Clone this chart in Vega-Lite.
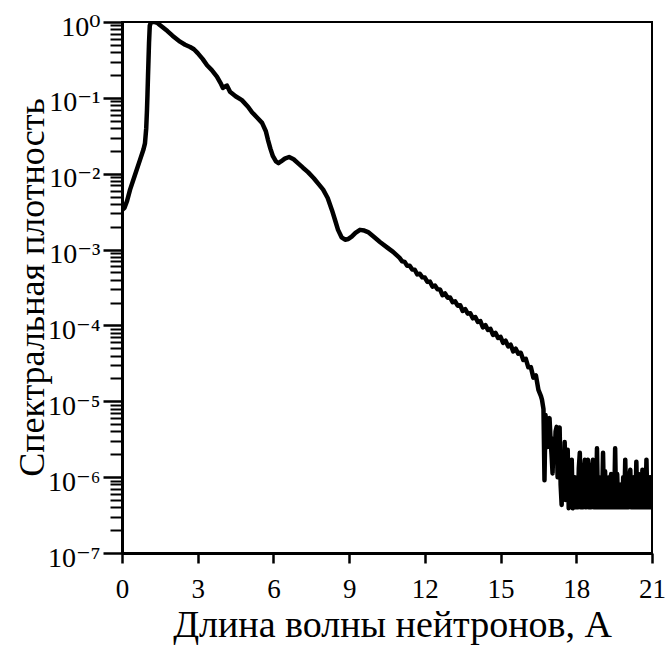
{
  "$schema": "https://vega.github.io/schema/vega-lite/v6.json",
  "width": 530,
  "height": 531,
  "autosize": "none",
  "padding": {"left": 122, "top": 22, "right": 14, "bottom": 92},
  "background": "white",
  "config": {
    "view": {"stroke": "black", "strokeWidth": 2},
    "font": "'Liberation Serif', 'Times New Roman', 'DejaVu Serif', serif"
  },
  "data": {"values": [
    {"lambda": 0.0, "density": 0.00331},
    {"lambda": 0.1, "density": 0.00355},
    {"lambda": 0.2, "density": 0.00437},
    {"lambda": 0.32, "density": 0.00617},
    {"lambda": 0.5, "density": 0.00933},
    {"lambda": 0.71, "density": 0.0151},
    {"lambda": 0.85, "density": 0.0209},
    {"lambda": 0.91, "density": 0.0251},
    {"lambda": 0.96, "density": 0.0398},
    {"lambda": 0.99, "density": 0.0692},
    {"lambda": 1.01, "density": 0.112},
    {"lambda": 1.03, "density": 0.191},
    {"lambda": 1.05, "density": 0.316},
    {"lambda": 1.07, "density": 0.525},
    {"lambda": 1.1, "density": 0.891},
    {"lambda": 1.15, "density": 1.0},
    {"lambda": 1.3, "density": 1.0},
    {"lambda": 1.4, "density": 0.977},
    {"lambda": 1.5, "density": 0.912},
    {"lambda": 1.8, "density": 0.759},
    {"lambda": 2.0, "density": 0.661},
    {"lambda": 2.3, "density": 0.55},
    {"lambda": 2.5, "density": 0.501},
    {"lambda": 2.7, "density": 0.468},
    {"lambda": 2.85, "density": 0.437},
    {"lambda": 3.0, "density": 0.389},
    {"lambda": 3.2, "density": 0.324},
    {"lambda": 3.37, "density": 0.269},
    {"lambda": 3.55, "density": 0.234},
    {"lambda": 3.76, "density": 0.191},
    {"lambda": 3.9, "density": 0.158},
    {"lambda": 4.0, "density": 0.135},
    {"lambda": 4.08, "density": 0.141},
    {"lambda": 4.16, "density": 0.145},
    {"lambda": 4.28, "density": 0.12},
    {"lambda": 4.5, "density": 0.105},
    {"lambda": 4.75, "density": 0.0933},
    {"lambda": 5.0, "density": 0.0759},
    {"lambda": 5.15, "density": 0.0646},
    {"lambda": 5.35, "density": 0.055},
    {"lambda": 5.55, "density": 0.0468},
    {"lambda": 5.7, "density": 0.0363},
    {"lambda": 5.78, "density": 0.0282},
    {"lambda": 5.88, "density": 0.0214},
    {"lambda": 5.98, "density": 0.017},
    {"lambda": 6.1, "density": 0.0145},
    {"lambda": 6.2, "density": 0.0138},
    {"lambda": 6.3, "density": 0.0145},
    {"lambda": 6.45, "density": 0.0158},
    {"lambda": 6.62, "density": 0.0166},
    {"lambda": 6.8, "density": 0.0155},
    {"lambda": 6.97, "density": 0.0138},
    {"lambda": 7.17, "density": 0.012},
    {"lambda": 7.37, "density": 0.0105},
    {"lambda": 7.6, "density": 0.00871},
    {"lambda": 7.8, "density": 0.00724},
    {"lambda": 7.97, "density": 0.00617},
    {"lambda": 8.15, "density": 0.00479},
    {"lambda": 8.32, "density": 0.00331},
    {"lambda": 8.45, "density": 0.0024},
    {"lambda": 8.56, "density": 0.00182},
    {"lambda": 8.7, "density": 0.00145},
    {"lambda": 8.84, "density": 0.00135},
    {"lambda": 8.97, "density": 0.00138},
    {"lambda": 9.1, "density": 0.00148},
    {"lambda": 9.25, "density": 0.00166},
    {"lambda": 9.43, "density": 0.00182},
    {"lambda": 9.6, "density": 0.00178},
    {"lambda": 9.75, "density": 0.0017},
    {"lambda": 10.0, "density": 0.00145},
    {"lambda": 10.22, "density": 0.00126},
    {"lambda": 10.5, "density": 0.00107},
    {"lambda": 10.74, "density": 0.000933},
    {"lambda": 11.0, "density": 0.000776},
    {"lambda": 11.1, "density": 0.000700},
    {"lambda": 11.2, "density": 0.000689},
    {"lambda": 11.3, "density": 0.000610},
    {"lambda": 11.4, "density": 0.000611},
    {"lambda": 11.5, "density": 0.000545},
    {"lambda": 11.6, "density": 0.000542},
    {"lambda": 11.7, "density": 0.000470},
    {"lambda": 11.8, "density": 0.000481},
    {"lambda": 11.9, "density": 0.000430},
    {"lambda": 12.0, "density": 0.000427},
    {"lambda": 12.1, "density": 0.000375},
    {"lambda": 12.2, "density": 0.000378},
    {"lambda": 12.3, "density": 0.000325},
    {"lambda": 12.4, "density": 0.000336},
    {"lambda": 12.5, "density": 0.000300},
    {"lambda": 12.6, "density": 0.000298},
    {"lambda": 12.7, "density": 0.000250},
    {"lambda": 12.8, "density": 0.000264},
    {"lambda": 12.9, "density": 0.000232},
    {"lambda": 13.0, "density": 0.000234},
    {"lambda": 13.1, "density": 0.000202},
    {"lambda": 13.2, "density": 0.000208},
    {"lambda": 13.3, "density": 0.000182},
    {"lambda": 13.4, "density": 0.000185},
    {"lambda": 13.5, "density": 0.000155},
    {"lambda": 13.6, "density": 0.000164},
    {"lambda": 13.7, "density": 0.000143},
    {"lambda": 13.8, "density": 0.000145},
    {"lambda": 13.9, "density": 0.000124},
    {"lambda": 14.0, "density": 0.000129},
    {"lambda": 14.1, "density": 0.000111},
    {"lambda": 14.2, "density": 0.000114},
    {"lambda": 14.3, "density": 0.0000940},
    {"lambda": 14.4, "density": 0.000101},
    {"lambda": 14.5, "density": 0.0000870},
    {"lambda": 14.6, "density": 0.0000899},
    {"lambda": 14.7, "density": 0.0000750},
    {"lambda": 14.8, "density": 0.0000798},
    {"lambda": 14.9, "density": 0.0000685},
    {"lambda": 15.0, "density": 0.0000708},
    {"lambda": 15.1, "density": 0.0000590},
    {"lambda": 15.2, "density": 0.0000628},
    {"lambda": 15.3, "density": 0.0000530},
    {"lambda": 15.4, "density": 0.0000557},
    {"lambda": 15.5, "density": 0.0000455},
    {"lambda": 15.6, "density": 0.0000494},
    {"lambda": 15.7, "density": 0.0000425},
    {"lambda": 15.8, "density": 0.0000437},
    {"lambda": 15.9, "density": 0.0000350},
    {"lambda": 16.0, "density": 0.0000363},
    {"lambda": 16.1, "density": 0.0000280},
    {"lambda": 16.2, "density": 0.0000282},
    {"lambda": 16.3, "density": 0.0000205},
    {"lambda": 16.4, "density": 0.0000219},
    {"lambda": 16.5, "density": 0.0000141},
    {"lambda": 16.6, "density": 0.0000117},
    {"lambda": 16.64, "density": 0.0000105},
    {"lambda": 16.7, "density": 0.0000079},
    {"lambda": 16.74, "density": 0.00000091},
    {"lambda": 16.78, "density": 0.0000066},
    {"lambda": 16.82, "density": 0.000004},
    {"lambda": 16.86, "density": 0.0000025},
    {"lambda": 16.9, "density": 0.000005},
    {"lambda": 16.94, "density": 0.000006},
    {"lambda": 16.98, "density": 0.0000032},
    {"lambda": 17.02, "density": 0.000002},
    {"lambda": 17.06, "density": 0.00000112},
    {"lambda": 17.1, "density": 0.0000032},
    {"lambda": 17.14, "density": 0.00000178},
    {"lambda": 17.18, "density": 0.000004},
    {"lambda": 17.22, "density": 0.0000046},
    {"lambda": 17.26, "density": 0.000001},
    {"lambda": 17.3, "density": 0.0000032},
    {"lambda": 17.34, "density": 0.0000045},
    {"lambda": 17.38, "density": 0.00000079},
    {"lambda": 17.42, "density": 0.00000043},
    {"lambda": 17.46, "density": 0.0000016},
    {"lambda": 17.5, "density": 0.00000063},
    {"lambda": 17.54, "density": 0.0000029},
    {"lambda": 17.58, "density": 0.0000005},
    {"lambda": 17.62, "density": 0.00000126},
    {"lambda": 17.66, "density": 0.0000023},
    {"lambda": 17.7, "density": 0.00000039},
    {"lambda": 17.74, "density": 0.000001},
    {"lambda": 17.78, "density": 0.0000005},
    {"lambda": 17.82, "density": 0.0000017},
    {"lambda": 17.86, "density": 0.00000039},
    {"lambda": 17.9, "density": 0.0000004},
    {"lambda": 17.94, "density": 0.000001},
    {"lambda": 17.98, "density": 0.0000004},
    {"lambda": 18.02, "density": 0.0000008},
    {"lambda": 18.06, "density": 0.0000004},
    {"lambda": 18.1, "density": 0.0000013},
    {"lambda": 18.14, "density": 0.0000021},
    {"lambda": 18.18, "density": 0.0000004},
    {"lambda": 18.22, "density": 0.0000011},
    {"lambda": 18.26, "density": 0.0000004},
    {"lambda": 18.3, "density": 0.0000012},
    {"lambda": 18.34, "density": 0.0000017},
    {"lambda": 18.38, "density": 0.0000004},
    {"lambda": 18.42, "density": 0.0000013},
    {"lambda": 18.46, "density": 0.0000017},
    {"lambda": 18.5, "density": 0.0000004},
    {"lambda": 18.54, "density": 0.0000011},
    {"lambda": 18.58, "density": 0.0000004},
    {"lambda": 18.62, "density": 0.0000013},
    {"lambda": 18.66, "density": 0.0000017},
    {"lambda": 18.7, "density": 0.0000004},
    {"lambda": 18.74, "density": 0.000001},
    {"lambda": 18.78, "density": 0.0000004},
    {"lambda": 18.82, "density": 0.0000024},
    {"lambda": 18.86, "density": 0.0000004},
    {"lambda": 18.9, "density": 0.000001},
    {"lambda": 18.94, "density": 0.0000004},
    {"lambda": 18.98, "density": 0.0000008},
    {"lambda": 19.02, "density": 0.0000004},
    {"lambda": 19.06, "density": 0.0000021},
    {"lambda": 19.1, "density": 0.0000004},
    {"lambda": 19.14, "density": 0.0000012},
    {"lambda": 19.18, "density": 0.0000004},
    {"lambda": 19.22, "density": 0.0000008},
    {"lambda": 19.26, "density": 0.0000004},
    {"lambda": 19.3, "density": 0.000001},
    {"lambda": 19.34, "density": 0.0000004},
    {"lambda": 19.38, "density": 0.0000011},
    {"lambda": 19.42, "density": 0.0000004},
    {"lambda": 19.46, "density": 0.000001},
    {"lambda": 19.5, "density": 0.0000004},
    {"lambda": 19.54, "density": 0.0000024},
    {"lambda": 19.58, "density": 0.0000004},
    {"lambda": 19.62, "density": 0.0000011},
    {"lambda": 19.66, "density": 0.0000004},
    {"lambda": 19.7, "density": 0.0000008},
    {"lambda": 19.74, "density": 0.0000004},
    {"lambda": 19.78, "density": 0.0000008},
    {"lambda": 19.82, "density": 0.0000004},
    {"lambda": 19.86, "density": 0.000001},
    {"lambda": 19.9, "density": 0.0000004},
    {"lambda": 19.94, "density": 0.0000017},
    {"lambda": 19.98, "density": 0.0000004},
    {"lambda": 20.02, "density": 0.0000011},
    {"lambda": 20.06, "density": 0.0000004},
    {"lambda": 20.1, "density": 0.000001},
    {"lambda": 20.14, "density": 0.00000125},
    {"lambda": 20.18, "density": 0.0000004},
    {"lambda": 20.22, "density": 0.000001},
    {"lambda": 20.26, "density": 0.0000004},
    {"lambda": 20.3, "density": 0.000001},
    {"lambda": 20.34, "density": 0.0000004},
    {"lambda": 20.38, "density": 0.0000016},
    {"lambda": 20.42, "density": 0.0000004},
    {"lambda": 20.46, "density": 0.0000011},
    {"lambda": 20.5, "density": 0.0000004},
    {"lambda": 20.54, "density": 0.000001},
    {"lambda": 20.58, "density": 0.0000004},
    {"lambda": 20.62, "density": 0.00000125},
    {"lambda": 20.66, "density": 0.0000004},
    {"lambda": 20.7, "density": 0.0000009},
    {"lambda": 20.74, "density": 0.0000004},
    {"lambda": 20.78, "density": 0.0000017},
    {"lambda": 20.82, "density": 0.0000004},
    {"lambda": 20.86, "density": 0.000001},
    {"lambda": 20.9, "density": 0.0000004},
    {"lambda": 20.94, "density": 0.000001},
    {"lambda": 20.98, "density": 0.0000004},
    {"lambda": 21.0, "density": 0.0000007}
  ]},
  "resolve": {"axis": {"y": "independent"}},
  "layer": [
    {
      "mark": {"type": "line", "color": "black", "strokeWidth": 4.5, "clip": true, "strokeJoin": "round"},
      "encoding": {
        "x": {
          "field": "lambda", "type": "quantitative",
          "scale": {"domain": [0, 21], "nice": false, "zero": false},
          "axis": {
            "values": [0, 3, 6, 9, 12, 15, 18, 21],
            "title": "Длина волны нейтронов, А",
            "titleFont": "'Liberation Serif', 'Times New Roman', 'DejaVu Serif', serif", "titleFontSize": 38, "titleFontWeight": "normal", "titleColor": "black",
            "titleBaseline": "alphabetic", "titleY": 83, "titleX": 270,
            "labelFont": "'Liberation Serif', 'Times New Roman', 'DejaVu Serif', serif", "labelFontSize": 27, "labelColor": "black",
            "labelPadding": 13, "labelFlush": false, "labelOverlap": false,
            "tickSize": 10, "tickWidth": 2.5, "tickColor": "black",
            "domainColor": "black", "domainWidth": 3, "grid": false
          }
        },
        "y": {
          "field": "density", "type": "quantitative",
          "scale": {"type": "log", "domain": [1e-7, 1], "nice": false},
          "axis": {
            "orient": "left",
            "values": [1e-7, 1e-6, 1e-5, 1e-4, 1e-3, 1e-2, 1e-1, 1],
            "labelExpr": "datum.value >= 0.5 ? '10⁰' : '10⁻' + ['','¹','²','³','⁴','⁵','⁶','⁷'][round(-log(datum.value)/LN10)]",
            "title": "Спектральная плотность",
            "titleFont": "'Liberation Serif', 'Times New Roman', 'DejaVu Serif', serif", "titleFontSize": 36, "titleFontWeight": "normal", "titleColor": "black",
            "titleX": -79, "titleY": 265, "titleBaseline": "alphabetic", "titleAngle": -90,
            "labelFont": "'Liberation Serif', 'Times New Roman', 'DejaVu Serif', serif", "labelFontSize": 28, "labelColor": "black",
            "labelPadding": 3, "labelBaseline": "alphabetic", "labelOffset": 13, "labelFlush": false, "labelOverlap": false,
            "tickSize": 19, "tickWidth": 2.5, "tickColor": "black",
            "domainColor": "black", "domainWidth": 3, "grid": false
          }
        }
      }
    },
    {
      "mark": {"type": "point", "opacity": 0},
      "encoding": {
        "x": {"field": "lambda", "type": "quantitative"},
        "y": {
          "field": "density", "type": "quantitative",
          "axis": {
            "orient": "left",
            "values": [2e-7,3e-7,4e-7,5e-7,6e-7,7e-7,8e-7,9e-7,2e-6,3e-6,4e-6,5e-6,6e-6,7e-6,8e-6,9e-6,2e-5,3e-5,4e-5,5e-5,6e-5,7e-5,8e-5,9e-5,2e-4,3e-4,4e-4,5e-4,6e-4,7e-4,8e-4,9e-4,2e-3,3e-3,4e-3,5e-3,6e-3,7e-3,8e-3,9e-3,2e-2,3e-2,4e-2,5e-2,6e-2,7e-2,8e-2,9e-2,0.2,0.3,0.4,0.5,0.6,0.7,0.8,0.9],
            "labels": false, "domain": false, "title": null, "grid": false,
            "tickSize": 12, "tickWidth": 2, "tickColor": "black"
          }
        }
      }
    }
  ]
}
